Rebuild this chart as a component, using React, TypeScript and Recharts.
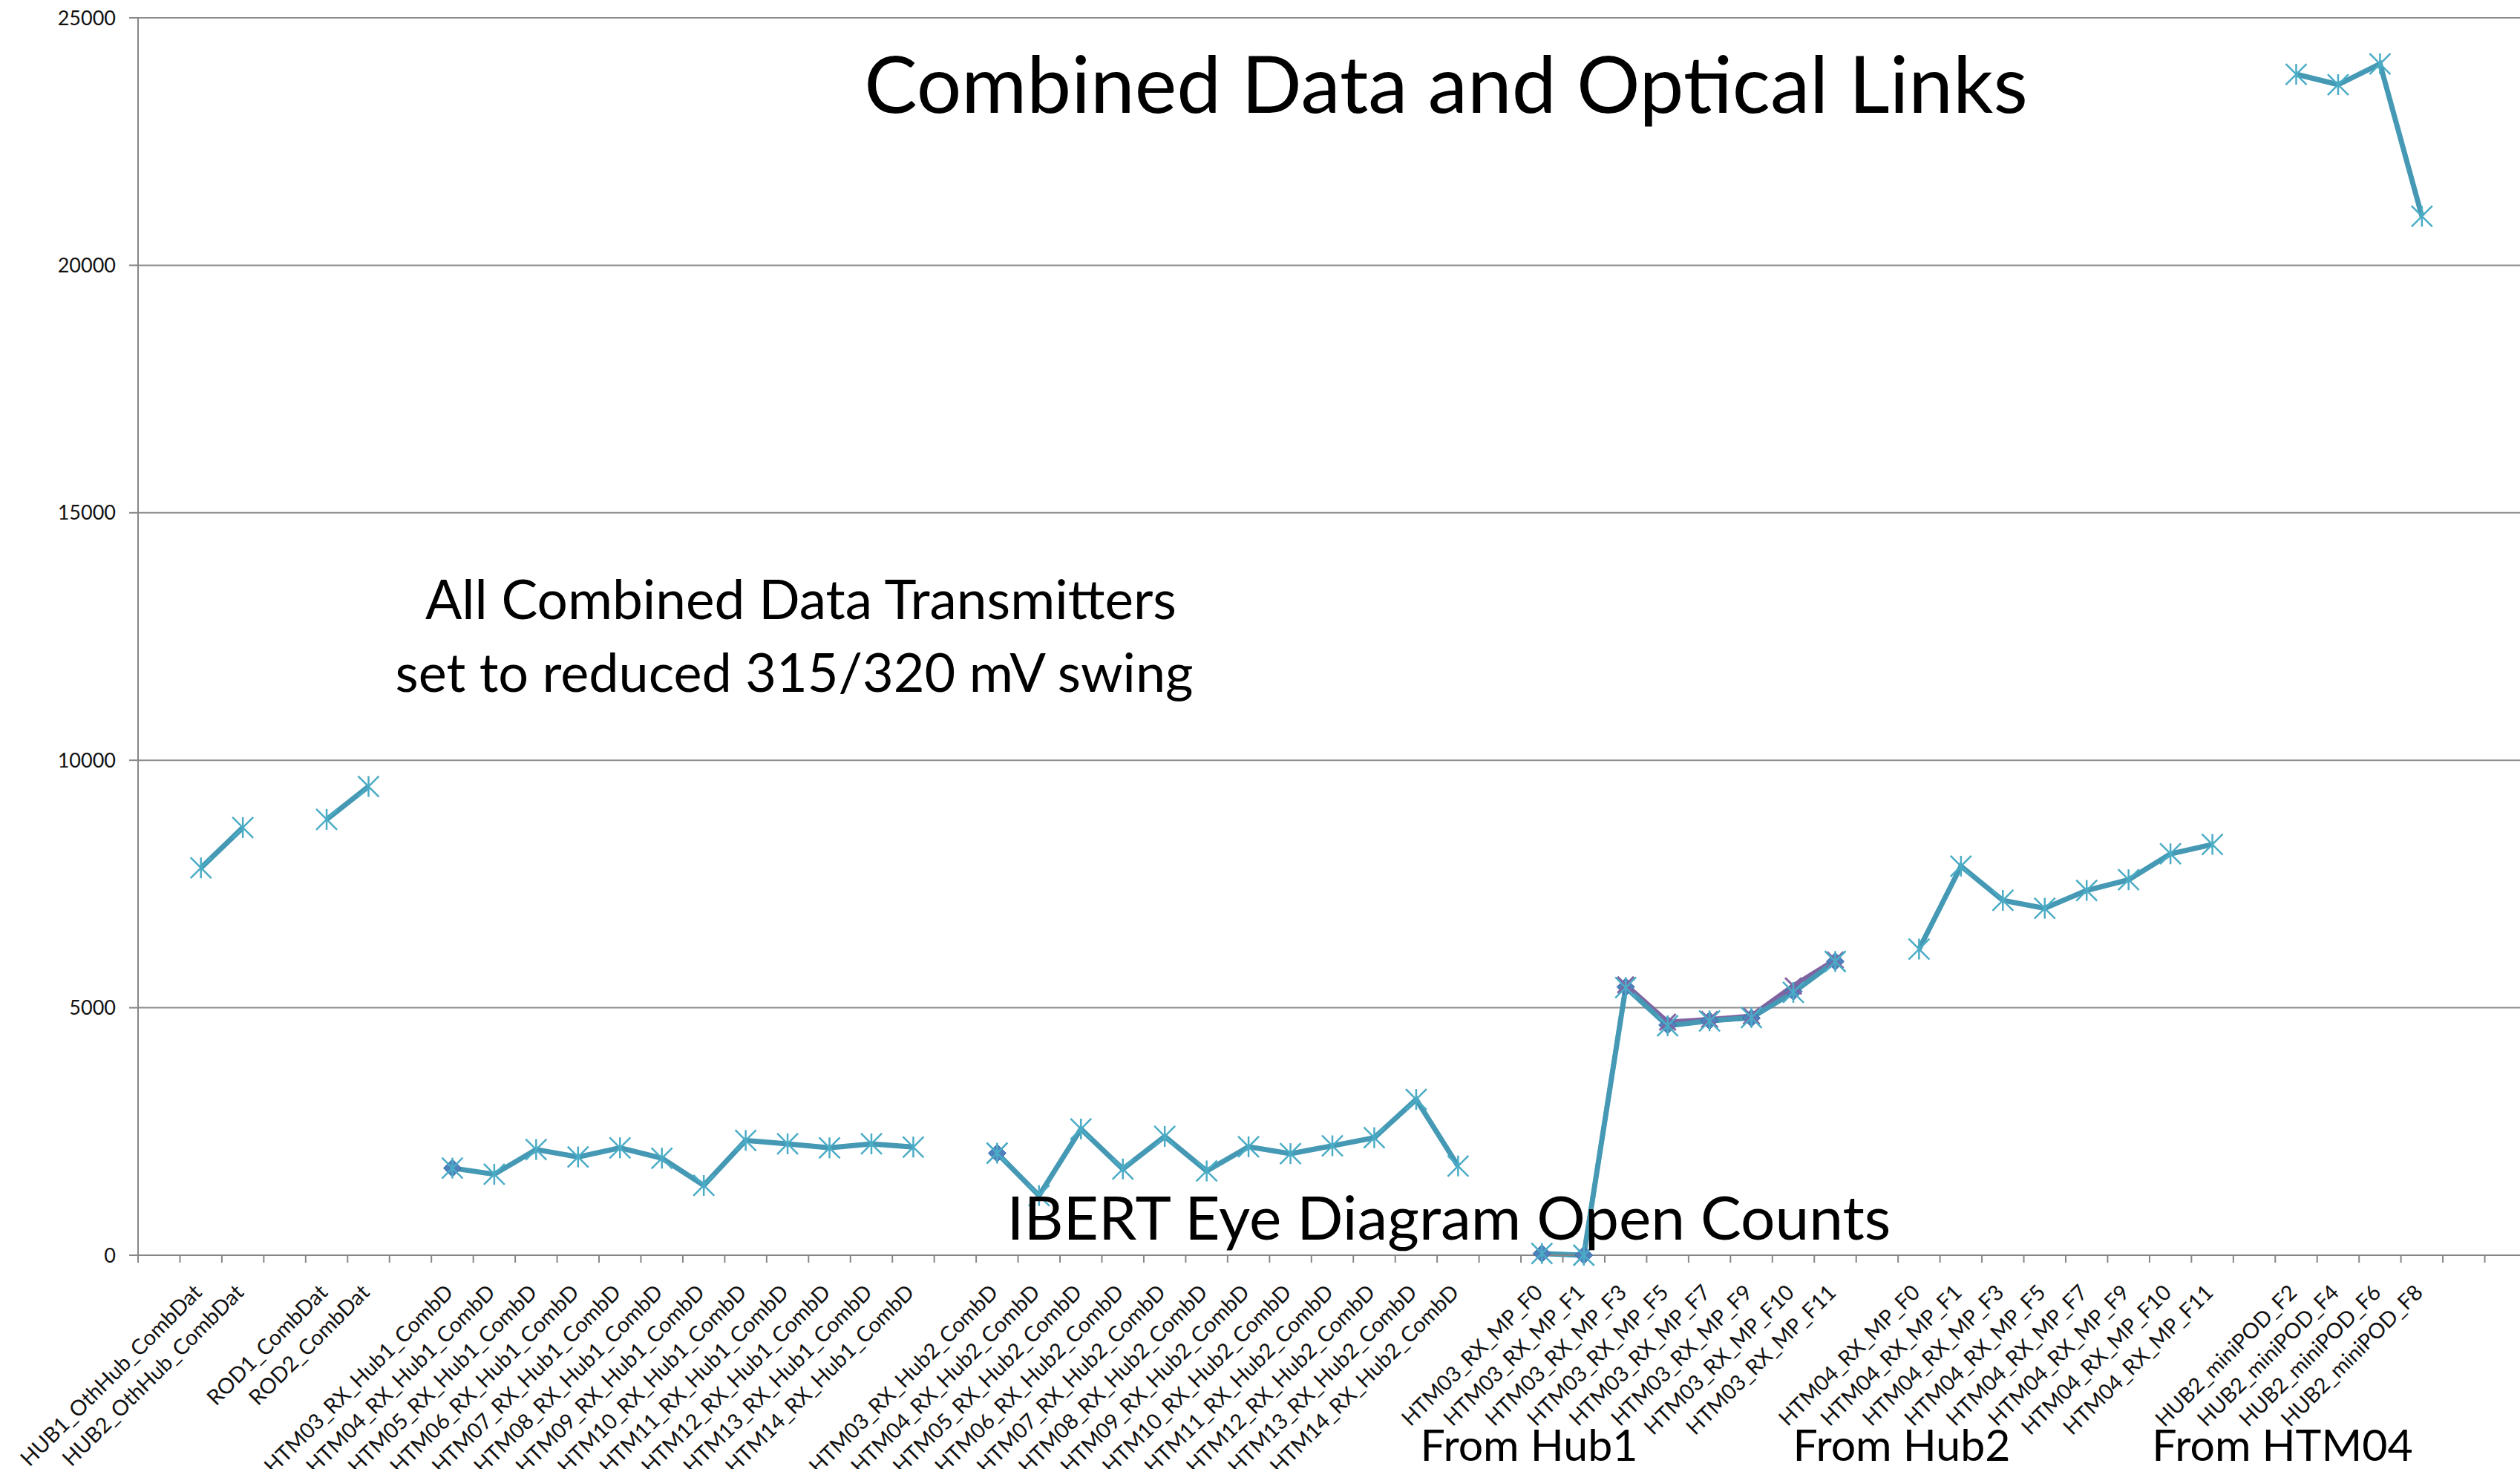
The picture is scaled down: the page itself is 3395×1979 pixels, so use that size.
import { LineChart, Line, XAxis, YAxis, CartesianGrid } from "recharts";

// category slots, "" = empty slot between groups
const categories = [
  "",
  "HUB1_OthHub_CombDat", "HUB2_OthHub_CombDat",
  "",
  "ROD1_CombDat", "ROD2_CombDat",
  "",
  "HTM03_RX_Hub1_CombD", "HTM04_RX_Hub1_CombD", "HTM05_RX_Hub1_CombD", "HTM06_RX_Hub1_CombD",
  "HTM07_RX_Hub1_CombD", "HTM08_RX_Hub1_CombD", "HTM09_RX_Hub1_CombD", "HTM10_RX_Hub1_CombD",
  "HTM11_RX_Hub1_CombD", "HTM12_RX_Hub1_CombD", "HTM13_RX_Hub1_CombD", "HTM14_RX_Hub1_CombD",
  "",
  "HTM03_RX_Hub2_CombD", "HTM04_RX_Hub2_CombD", "HTM05_RX_Hub2_CombD", "HTM06_RX_Hub2_CombD",
  "HTM07_RX_Hub2_CombD", "HTM08_RX_Hub2_CombD", "HTM09_RX_Hub2_CombD", "HTM10_RX_Hub2_CombD",
  "HTM11_RX_Hub2_CombD", "HTM12_RX_Hub2_CombD", "HTM13_RX_Hub2_CombD", "HTM14_RX_Hub2_CombD",
  "",
  "HTM03_RX_MP_F0", "HTM03_RX_MP_F1", "HTM03_RX_MP_F3", "HTM03_RX_MP_F5",
  "HTM03_RX_MP_F7", "HTM03_RX_MP_F9", "HTM03_RX_MP_F10", "HTM03_RX_MP_F11",
  "",
  "HTM04_RX_MP_F0", "HTM04_RX_MP_F1", "HTM04_RX_MP_F3", "HTM04_RX_MP_F5",
  "HTM04_RX_MP_F7", "HTM04_RX_MP_F9", "HTM04_RX_MP_F10", "HTM04_RX_MP_F11",
  "",
  "HUB2_miniPOD_F2", "HUB2_miniPOD_F4", "HUB2_miniPOD_F6", "HUB2_miniPOD_F8",
  "", "",
];

const allLinks = [
  null,
  7825, 8640,
  null,
  8805, 9470,
  null,
  1760, 1635, 2135, 1985, 2170, 1960, 1410, 2320, 2250, 2170, 2250, 2185,
  null,
  2062, 1205, 2550, 1743, 2400, 1703, 2191, 2052, 2211, 2375, 3147, 1803,
  null,
  35, 0, 5410, 4635, 4735, 4800, 5310, 5935,
  null,
  6185, 7860, 7170, 7010, 7370, 7585, 8110, 8300,
  null,
  23860, 23650, 24070, 20990,
  null, null,
];

const htm03Links = [
  null, null, null, null, null, null, null,
  1760, null, null, null, null, null, null, null, null, null, null, null,
  null,
  2062, null, null, null, null, null, null, null, null, null, null, null,
  null,
  35, 0, 5420, 4650, 4740, 4790, 5330, 5935,
  null,
  null, null, null, null, null, null, null, null,
  null,
  null, null, null, null,
  null, null,
];

const htm03Repeat = [
  null, null, null, null, null, null, null,
  null, null, null, null, null, null, null, null, null, null, null, null,
  null,
  null, null, null, null, null, null, null, null, null, null, null, null,
  null,
  null, null, 5460, 4710, 4760, 4830, 5440, 5965,
  null,
  null, null, null, null, null, null, null, null,
  null,
  null, null, null, null,
  null, null,
];

const yTicks = [0, 5000, 10000, 15000, 20000, 25000];

const CHART_W = 3404;
const CHART_H = 1979;
const AXIS_W = 186;
const XAXIS_H = 288;
const TOP = 24;
const BAND = (CHART_W - AXIS_W) / categories.length;
const FONT = "Lato, 'Open Sans', sans-serif";
const AXIS_GREY = "#868686";

const data = categories.map((name, i) => ({
  idx: i,
  name,
  all: allLinks[i],
  htm03: htm03Links[i],
  repeat: htm03Repeat[i],
}));

function CategoryTick({ x, y, payload }: any) {
  const label = categories[payload.value] ?? "";
  const tx = x + 3;
  const ty = y + 52;
  return (
    <g>
      <line x1={x - BAND / 2} x2={x - BAND / 2} y1={y} y2={y + 10} stroke={AXIS_GREY} strokeWidth={2} />
      {label ? (
        <text x={tx} y={ty} transform={`rotate(-45 ${tx} ${ty})`} textAnchor="end" fontSize={29} fill="#111" fontFamily={FONT}>
          {label}
        </text>
      ) : null}
    </g>
  );
}

function StarDot({ cx, cy }: any) {
  if (cx == null || cy == null) return <g />;
  const r = 14;
  return (
    <g stroke="#4bacc6" strokeWidth={2.5}>
      <line x1={cx} y1={cy - r} x2={cx} y2={cy + r} />
      <line x1={cx - r} y1={cy - r} x2={cx + r} y2={cy + r} />
      <line x1={cx - r} y1={cy + r} x2={cx + r} y2={cy - r} />
    </g>
  );
}

function DiamondDot({ cx, cy }: any) {
  if (cx == null || cy == null) return <g />;
  const r = 12;
  return <polygon points={`${cx},${cy - r} ${cx + r},${cy} ${cx},${cy + r} ${cx - r},${cy}`} fill="#4f81bd" stroke="#3c6aa6" strokeWidth={1} />;
}

function CrossDot({ cx, cy }: any) {
  if (cx == null || cy == null) return <g />;
  const r = 11;
  return (
    <g stroke="#8064a2" strokeWidth={3}>
      <line x1={cx - r} y1={cy - r} x2={cx + r} y2={cy + r} />
      <line x1={cx - r} y1={cy + r} x2={cx + r} y2={cy - r} />
    </g>
  );
}

const notes = [
  { text: "Combined Data and Optical Links", x: 1948, y: 152, size: 107 },
  { text: "All Combined Data Transmitters", x: 1079, y: 834, size: 73 },
  { text: "set to reduced 315/320 mV swing", x: 1070, y: 932, size: 72 },
  { text: "IBERT Eye Diagram Open Counts", x: 1952, y: 1670, size: 82 },
  { text: "From Hub1", x: 2060, y: 1968, size: 59 },
  { text: "From Hub2", x: 2562, y: 1968, size: 59 },
  { text: "From HTM04", x: 3075, y: 1968, size: 59 },
];

export default function App() {
  return (
    <div style={{ position: "absolute", left: 0, top: 0, width: 3395, height: 1979, overflow: "hidden", background: "#fff", fontFamily: FONT }}>
      <LineChart width={CHART_W} height={CHART_H} data={data} margin={{ top: TOP, right: 0, bottom: 0, left: 0 }}>
        <CartesianGrid vertical={false} stroke="#8c8c8c" strokeWidth={2} />
        <XAxis
          dataKey="idx"
          type="category"
          scale="band"
          interval={0}
          height={XAXIS_H}
          tickSize={0}
          tickMargin={0}
          tickLine={false}
          axisLine={{ stroke: AXIS_GREY, strokeWidth: 2 }}
          tick={<CategoryTick />}
        />
        <YAxis
          type="number"
          domain={[0, 25000]}
          ticks={yTicks}
          interval={0}
          width={AXIS_W}
          tickSize={12}
          tickMargin={18}
          axisLine={{ stroke: AXIS_GREY, strokeWidth: 2 }}
          tickLine={{ stroke: AXIS_GREY, strokeWidth: 2 }}
          tick={{ fontSize: 27, fill: "#111", fontFamily: FONT }}
        />
        <Line dataKey="htm03" stroke="#4f81bd" strokeWidth={6} dot={(p: any) => <DiamondDot key={p.index} {...p} />} isAnimationActive={false} />
        <Line dataKey="repeat" stroke="#8064a2" strokeWidth={7} dot={(p: any) => <CrossDot key={p.index} {...p} />} isAnimationActive={false} />
        <Line dataKey="all" stroke="#4599b4" strokeWidth={7} dot={(p: any) => <StarDot key={p.index} {...p} />} isAnimationActive={false} />
      </LineChart>
      <svg width={3395} height={1979} style={{ position: "absolute", left: 0, top: 0, pointerEvents: "none" }}>
        {notes.map((n) => (
          <text key={n.text} x={n.x} y={n.y} textAnchor="middle" fontSize={n.size} fill="#000" fontFamily={FONT}>
            {n.text}
          </text>
        ))}
      </svg>
    </div>
  );
}
